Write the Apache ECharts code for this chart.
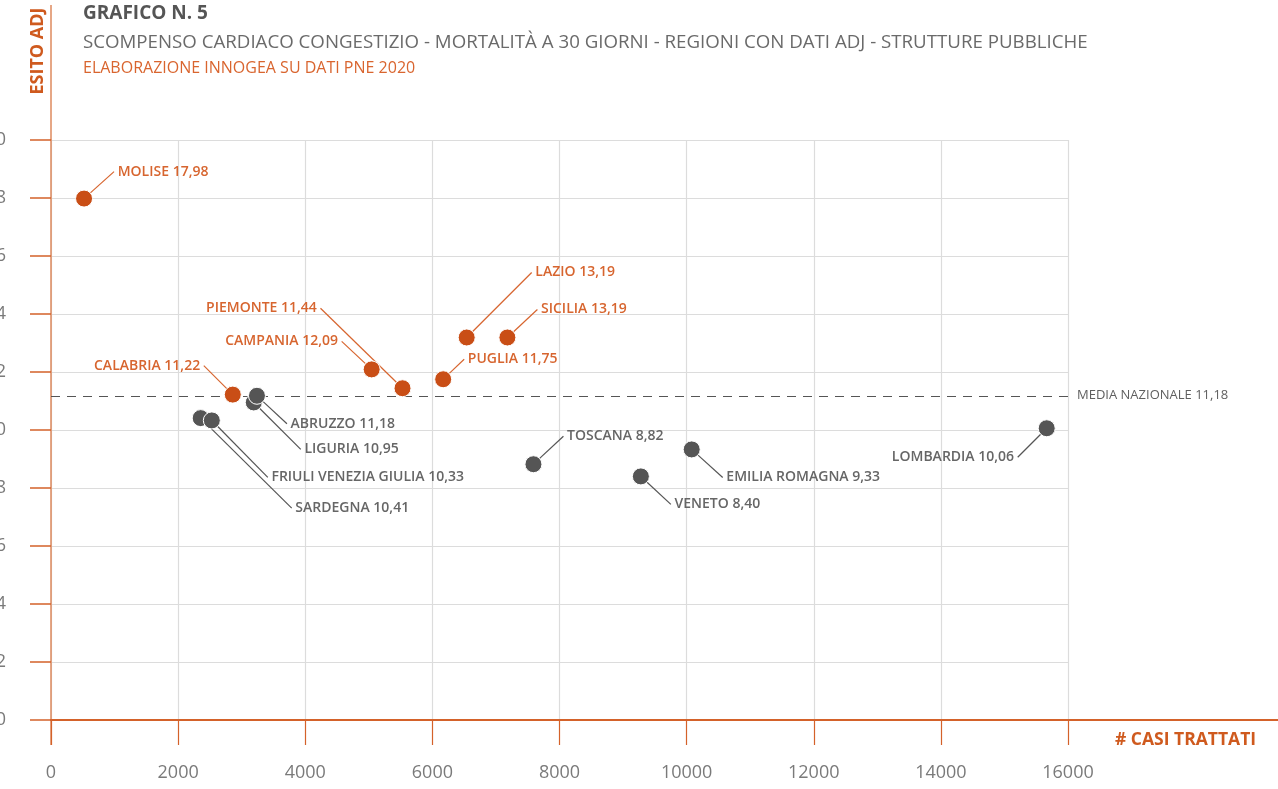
<!DOCTYPE html>
<html>
<head>
<meta charset="utf-8">
<script src="https://cdn.jsdelivr.net/npm/echarts@6/dist/echarts.min.js"></script>
<style>
html,body{margin:0;padding:0;background:#fff;}
#chart{width:1278px;height:789px;}
</style>
</head>
<body>
<div id="chart"></div>
<script>
// ---- DATA ----
const titleText = 'GRAFICO N. 5';
const subtitleText = 'SCOMPENSO CARDIACO CONGESTIZIO - MORTALITÀ A 30 GIORNI - REGIONI CON DATI ADJ - STRUTTURE PUBBLICHE';
const sourceText = 'ELABORAZIONE INNOGEA SU DATI PNE 2020';
const xAxisName = '# CASI TRATTATI';
const yAxisName = 'ESITO ADJ';

// regions above national mean (orange)
const aboveNames = ['MOLISE', 'CALABRIA', 'CAMPANIA', 'PIEMONTE', 'PUGLIA', 'LAZIO', 'SICILIA'];
const aboveCases = [520, 2860, 5045, 5530, 6170, 6540, 7180];
const aboveEsito = [17.98, 11.22, 12.09, 11.44, 11.75, 13.19, 13.19];

// regions at/below national mean (grey)
const belowNames = ['SARDEGNA', 'FRIULI VENEZIA GIULIA', 'LIGURIA', 'ABRUZZO', 'TOSCANA', 'VENETO', 'EMILIA ROMAGNA', 'LOMBARDIA'];
const belowCases = [2355, 2530, 3190, 3240, 7590, 9280, 10080, 15665];
const belowEsito = [10.41, 10.33, 10.95, 11.18, 8.82, 8.40, 9.33, 10.06];

const mediaNazionale = 11.18;
const mediaLabel = 'MEDIA NAZIONALE 11,18';

const xMin = 0, xMax = 16000, xStep = 2000;
const yMin = 0, yMax = 20, yStep = 2;

// ---- STYLE (label placement relative to each dot, in px: [dx, dy, align]) ----
const labelPlacement = {
  'MOLISE': [34, -27, 'left'],
  'CALABRIA': [-33, -29, 'right'],
  'CAMPANIA': [-34, -28, 'right'],
  'PIEMONTE': [-86, -80, 'right'],
  'PUGLIA': [25, -20, 'left'],
  'LAZIO': [69, -65, 'left'],
  'SICILIA': [34, -28, 'left'],
  'SARDEGNA': [95, 90, 'left'],
  'FRIULI VENEZIA GIULIA': [60, 57, 'left'],
  'LIGURIA': [51, 47, 'left'],
  'ABRUZZO': [34, 28, 'left'],
  'TOSCANA': [34, -28, 'left'],
  'VENETO': [34, 28, 'left'],
  'EMILIA ROMAGNA': [35, 28, 'left'],
  'LOMBARDIA': [-33, 29, 'right']
};
const FONT = 'Open Sans';
const ORANGE = '#C94E16';
const ORANGE_TXT = '#D7652F';
const AXIS_ORANGE = '#D4622A';
const GREY = '#555555';
const GREY_TXT = '#666666';
const GAP = 4; // approx width of the spacing character between leader line and text

function fmt(v) { return v.toFixed(2).replace('.', ','); }
function build(names, xs, ys) {
  return names.map((n, i) => ({ name: n, value: [xs[i], ys[i]] }));
}
const seriesNames = [aboveNames, belowNames];
function layoutFn(p) {
  const name = seriesNames[p.seriesIndex][p.dataIndex];
  const pl = labelPlacement[name];
  const dx = pl[2] === 'left' ? pl[0] - GAP : pl[0] + GAP;
  return { dx: dx, dy: pl[1], align: pl[2], verticalAlign: 'middle' };
}
function labelText(p) {
  const txt = p.name + ' ' + fmt(p.value[1]);
  return labelPlacement[p.name][2] === 'left' ? ' ' + txt : txt + ' ';
}

const chart = echarts.init(document.getElementById('chart'), null, { renderer: 'canvas' });

function scatterSeries(name, data, dotColor, txtColor, lineColor, extra) {
  return Object.assign({
    type: 'scatter',
    name: name,
    data: data,
    symbol: 'circle',
    symbolSize: 17,
    itemStyle: { color: dotColor, borderColor: '#ffffff', borderWidth: 1, opacity: 1 },
    label: {
      show: true,
      position: 'inside',
      formatter: labelText,
      color: txtColor,
      fontFamily: FONT,
      fontSize: 14,
      fontWeight: 600
    },
    labelLine: { show: true, length2: 0, lineStyle: { color: lineColor, width: 1.2 } },
    labelLayout: layoutFn,
    emphasis: { disabled: true },
    z: 3
  }, extra || {});
}

const option = {
  animation: false,
  backgroundColor: '#ffffff',
  title: [
    { text: titleText, left: 83, top: 2, padding: 0,
      textStyle: { fontFamily: FONT, fontSize: 19, fontWeight: 'bold', color: '#555555', lineHeight: 24 } },
    { text: subtitleText, left: 83, top: 32, padding: 0,
      textStyle: { fontFamily: FONT, fontSize: 18.7, fontWeight: 'normal', color: '#6a6a6a', lineHeight: 22 } },
    { text: sourceText, left: 83, top: 58, padding: 0,
      textStyle: { fontFamily: FONT, fontSize: 16, fontWeight: 'normal', color: '#D9652F', lineHeight: 20 } }
  ],
  grid: { left: 51, right: 210, top: 140, bottom: 69, containLabel: false, outerBoundsMode: 'none' },
  xAxis: {
    type: 'value', min: xMin, max: xMax, interval: xStep,
    axisLine: { show: true, lineStyle: { color: AXIS_ORANGE, width: 2 } },
    axisTick: { show: true, inside: false, length: 25, lineStyle: { color: AXIS_ORANGE, width: 1.2 } },
    axisLabel: { margin: 44, fontFamily: FONT, fontSize: 18, color: '#7a7a7a', formatter: (v) => String(v) },
    splitLine: { show: true, lineStyle: { color: '#dcdcdc', width: 1.2 } }
  },
  yAxis: {
    type: 'value', min: yMin, max: yMax, interval: yStep,
    axisLine: { show: true, lineStyle: { color: '#DE8A5E', width: 1.5 } },
    axisTick: { show: true, inside: false, length: 21, lineStyle: { color: AXIS_ORANGE, width: 1.5 } },
    axisLabel: { margin: 45, fontFamily: FONT, fontSize: 18, color: '#7a7a7a', formatter: (v) => String(v) },
    splitLine: { show: true, lineStyle: { color: '#dcdcdc', width: 1.2 } }
  },
  series: [
    scatterSeries('Sopra la media', build(aboveNames, aboveCases, aboveEsito), ORANGE, ORANGE_TXT, ORANGE_TXT, {
      markLine: {
        silent: true,
        symbol: ['none', 'none'],
        lineStyle: { color: '#555555', width: 1, type: [9, 7] },
        label: { show: true, position: 'end', distance: 9, formatter: mediaLabel,
          fontFamily: FONT, fontSize: 13, color: '#5f5f5f' },
        data: [{ yAxis: mediaNazionale }],
        z: 2
      }
    }),
    scatterSeries('Sotto la media', build(belowNames, belowCases, belowEsito), GREY, GREY_TXT, GREY)
  ]
};
chart.setOption(option);

// decorative axis extensions and axis titles, placed from the axes' own scales
const origin = chart.convertToPixel({ gridIndex: 0 }, [xMin, yMin]);
const topPt = chart.convertToPixel({ gridIndex: 0 }, [xMin, yMax]);
const rightPt = chart.convertToPixel({ gridIndex: 0 }, [xMax, yMin]);
chart.setOption({
  graphic: [
    { type: 'line', shape: { x1: origin[0], y1: 5, x2: origin[0], y2: topPt[1] },
      style: { stroke: '#DE8A5E', lineWidth: 1.5 }, silent: true },
    { type: 'line', shape: { x1: origin[0], y1: origin[1], x2: origin[0], y2: origin[1] + 25 },
      style: { stroke: '#DE8A5E', lineWidth: 1.5 }, silent: true },
    { type: 'line', shape: { x1: rightPt[0], y1: rightPt[1], x2: 1278, y2: rightPt[1] },
      style: { stroke: AXIS_ORANGE, lineWidth: 2 }, silent: true },
    { type: 'text', x: origin[0] - 13, y: 51, rotation: Math.PI / 2,
      style: { text: yAxisName, fontFamily: FONT, fontSize: 18, fontWeight: 'bold', fill: '#CF5A1E',
        align: 'center', verticalAlign: 'middle' }, silent: true },
    { type: 'text', x: rightPt[0] + 47, y: rightPt[1] + 20,
      style: { text: xAxisName, fontFamily: FONT, fontSize: 17.5, fontWeight: 'bold', fill: '#CF5A1E',
        align: 'left', verticalAlign: 'middle' }, silent: true }
  ]
});
</script>
</body>
</html>
